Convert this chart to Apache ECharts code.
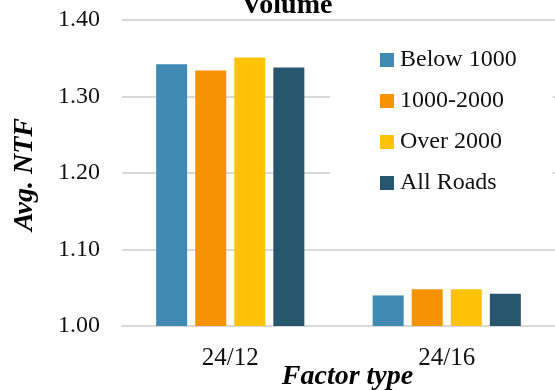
<!DOCTYPE html>
<html>
<head>
<meta charset="utf-8">
<script src="https://cdn.jsdelivr.net/npm/echarts@6/dist/echarts.min.js"></script>
<style>
html,body{margin:0;padding:0;background:#fff;}
#chart{width:555px;height:390px;}
</style>
</head>
<body>
<div id="chart"></div>
<script>
var categories = ['24/12', '24/16'];
var seriesNames = ['Below 1000', '1000-2000', 'Over 2000', 'All Roads'];
var below1000 = [1.342, 1.040];
var from1000to2000 = [1.334, 1.048];
var over2000 = [1.351, 1.048];
var allRoads = [1.338, 1.042];
var yTicks = [1.00, 1.10, 1.20, 1.30, 1.40];
var colors = ['#418AB3', '#F59300', '#FEC306', '#27576F'];

var seriesData = [below1000, from1000to2000, over2000, allRoads];
var FONT = '"Liberation Serif", "Times New Roman", serif';

var chart = echarts.init(document.getElementById('chart'), null, {renderer: 'canvas'});
var option = {
  backgroundColor: '#fff',
  animation: false,
  color: colors,
  grid: {left: 122, right: 0, top: 20, bottom: 64, containLabel: false, outerBoundsMode: 'none'},
  graphic: [{
    type: 'text', x: 287, y: 5.5, z: 10,
    style: {text: 'Volume', x: 0, y: 0, textAlign: 'center', textVerticalAlign: 'middle',
      font: 'bold 28px ' + FONT, fill: '#000'}
  }],
  legend: {
    orient: 'vertical', left: 330, top: 26,
    padding: [22, 36, 46, 50],
    backgroundColor: '#fff',
    itemWidth: 14, itemHeight: 14, itemGap: 17,
    icon: 'rect',
    z: 5,
    textStyle: {fontFamily: FONT, fontSize: 24, color: '#111', padding: [0, 0, 0, 1]},
    data: seriesNames
  },
  xAxis: {
    type: 'category', data: categories,
    axisLine: {show: true, lineStyle: {color: '#d9d9d9', width: 2}},
    axisTick: {show: false},
    axisLabel: {fontFamily: FONT, fontSize: 25, color: '#111', margin: 20},
    name: 'Factor type', nameLocation: 'middle', nameGap: 37, nameMoveOverlap: false,
    nameTextStyle: {fontFamily: FONT, fontSize: 28, fontWeight: 'bold', fontStyle: 'italic', color: '#000', padding: [0, 0, 0, 18]}
  },
  yAxis: {
    type: 'value', min: yTicks[0], max: yTicks[yTicks.length - 1], interval: 0.1,
    axisLine: {show: false}, axisTick: {show: false},
    splitLine: {lineStyle: {color: '#d9d9d9', width: 2}},
    axisLabel: {fontFamily: FONT, fontSize: 24, color: '#111', margin: 22,
      formatter: function (v) { return v.toFixed(2); }},
    name: 'Avg. NTF', nameLocation: 'middle', nameGap: 83, nameRotate: 90, nameMoveOverlap: false,
    nameTextStyle: {fontFamily: FONT, fontSize: 28, fontWeight: 'bold', fontStyle: 'italic', color: '#000', padding: [0, 3, 0, 0]}
  },
  series: seriesNames.map(function (n, i) {
    return {
      name: n, type: 'bar', data: seriesData[i],
      barWidth: 31, barGap: '26%',
      itemStyle: {color: colors[i]}
    };
  })
};
chart.setOption(option);
</script>
</body>
</html>
